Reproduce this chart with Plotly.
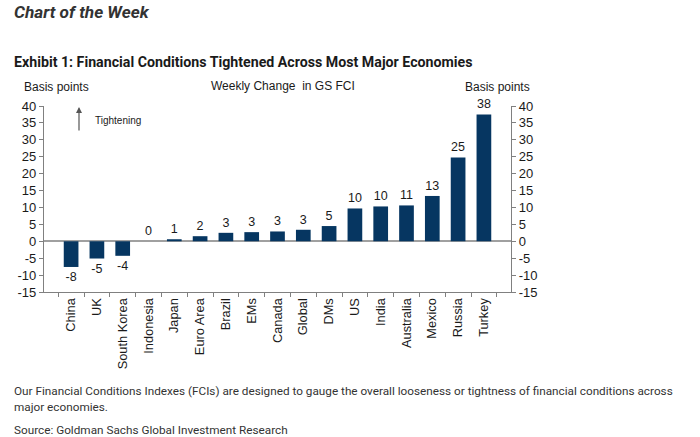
import plotly.graph_objects as go

categories = ["China", "UK", "South Korea", "Indonesia", "Japan", "Euro Area", "Brazil", "EMs",
              "Canada", "Global", "DMs", "US", "India", "Australia", "Mexico", "Russia", "Turkey"]
values = [-7.6, -5.1, -4.3, 0.0, 0.6, 1.5, 2.5, 2.7, 2.9, 3.4, 4.5, 9.7, 10.3, 10.6, 13.4, 24.8, 37.5]
labels = ["-8", "-5", "-4", "0", "1", "2", "3", "3", "3", "3", "5", "10", "10", "11", "13", "25", "38"]
tickvals = [-15, -10, -5, 0, 5, 10, 15, 20, 25, 30, 35, 40]
ticktext = ["-15", "-10", "-5", "0", "5", "10", "15", "20", "25", "30", "35", "40"]

NAVY = "#063661"
AXIS = "#808080"
TXT = "#1a1a1a"
TF = "Liberation Sans, Arial, sans-serif"
GF = "Roboto, Open Sans, sans-serif"

fig = go.Figure()
fig.add_trace(go.Bar(
    x=categories, y=values, marker_color=NAVY, marker_line_width=0,
    text=labels, textposition="outside", cliponaxis=False,
    textfont=dict(family=TF, size=12.5, color=TXT), hoverinfo="skip"))
fig.add_trace(go.Scatter(x=categories, y=values, yaxis="y2", mode="markers",
                         marker=dict(opacity=0), showlegend=False, hoverinfo="skip"))

fig.update_layout(
    width=700, height=437, plot_bgcolor="white", paper_bgcolor="white",
    margin=dict(l=44, r=189, t=106, b=145), showlegend=False, bargap=0.43,
    xaxis=dict(type="category", showline=True, linecolor=AXIS, linewidth=1.2,
               ticks="outside", tickson="boundaries", ticklen=4, tickcolor=AXIS,
               tickangle=-90, tickfont=dict(family=TF, size=12.8, color=TXT),
               showgrid=False, zeroline=False),
    yaxis=dict(range=[-15, 40], tickvals=tickvals, ticktext=ticktext, showline=True,
               linecolor=AXIS, linewidth=1.2,
               ticks="outside", ticklen=4, tickcolor=AXIS, showgrid=False,
               zeroline=True, zerolinecolor="#a0a0a0", zerolinewidth=1.5,
               tickfont=dict(family=TF, size=13, color=TXT)),
    yaxis2=dict(range=[-15, 40], tickvals=tickvals, ticktext=ticktext, overlaying="y", side="right",
                showline=True, linecolor=AXIS, linewidth=1.2, ticks="outside", ticklen=4,
                tickcolor=AXIS, showgrid=False, zeroline=False,
                tickfont=dict(family=TF, size=13, color=TXT)),
)

ann = [
    dict(text="<b><i>Chart of the Week</i></b>", x=12, y=12, font=dict(family=GF, size=17.2, color="#333333")),
    dict(text="<b>Exhibit 1: Financial Conditions Tightened Across Most Major Economies</b>", x=12, y=62,
         font=dict(family=GF, size=14.2, color="#1a1a1a")),
    dict(text="Basis points", x=22, y=87, font=dict(family=TF, size=12, color=TXT)),
    dict(text="Weekly Change  in GS FCI", x=209, y=86, font=dict(family=TF, size=12, color=TXT)),
    dict(text="Basis points", x=463, y=87, font=dict(family=TF, size=12, color=TXT)),
    dict(text="Tightening", x=93, y=120, font=dict(family=TF, size=10, color=TXT)),
    dict(text="Our Financial Conditions Indexes (FCIs) are designed to gauge the overall looseness or tightness of financial conditions across",
         x=12, y=391, font=dict(family=GF, size=11.75, color="#333333")),
    dict(text="major economies.", x=12, y=407, font=dict(family=GF, size=11.75, color="#333333")),
    dict(text="Source: Goldman Sachs Global Investment Research", x=12, y=430, font=dict(family=GF, size=11.75, color="#333333")),
]
pw, ph = 700 - 44 - 189, 437 - 106 - 145
for a in ann:
    fig.add_annotation(xref="paper", yref="paper",
                       x=(a["x"] - 44) / pw, y=(437 - 145 - a["y"]) / ph,
                       xanchor="left", yanchor="middle", text=a["text"],
                       showarrow=False, font=a["font"])
# tightening arrow
fig.add_annotation(xref="paper", yref="paper",
                   x=(79 - 44) / pw, y=(292 - 107) / ph, ax=0, ay=25,
                   axref="pixel", ayref="pixel", text="", showarrow=True,
                   arrowhead=2, arrowsize=1, arrowwidth=1.2, arrowcolor="#555555")

fig.write_html("out.html")
